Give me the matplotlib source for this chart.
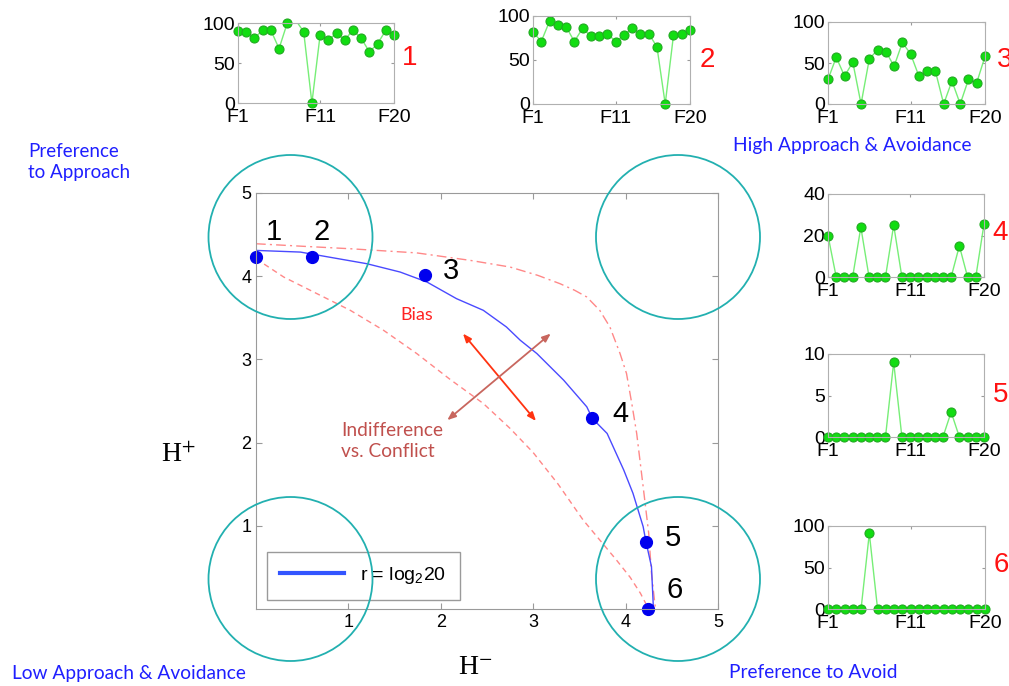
import matplotlib
matplotlib.use("Agg")
import matplotlib.pyplot as plt
from matplotlib.patches import Ellipse
import numpy as np

W, H = 1009, 686

# main panel: blue points and traced curves (H-, H+)
pt_labels = ["1", "2", "3", "4", "5", "6"]
pt_x = [0.00, 0.61, 1.83, 3.64, 4.22, 4.24]
pt_y = [4.23, 4.23, 4.01, 2.29, 0.81, 0.00]

curve_x = [0.00, 0.48, 0.84, 1.20, 1.56, 1.85, 2.17, 2.46, 2.71, 2.86, 3.04,
           3.33, 3.58, 3.64, 3.80, 3.98, 4.08, 4.19, 4.22, 4.28, 4.30]
curve_y = [4.31, 4.29, 4.22, 4.15, 4.05, 3.93, 3.73, 3.59, 3.39, 3.23, 3.07,
           2.75, 2.43, 2.29, 2.11, 1.67, 1.39, 0.99, 0.81, 0.51, 0.03]

upper_x = [0.00, 0.50, 1.02, 1.74, 2.32, 2.75, 3.05, 3.29, 3.45, 3.58, 3.72,
           3.83, 3.94, 4.01, 4.07, 4.12, 4.19, 4.25, 4.28, 4.32]
upper_y = [4.39, 4.36, 4.33, 4.28, 4.19, 4.11, 4.01, 3.91, 3.83, 3.75, 3.59,
           3.39, 3.07, 2.83, 2.45, 2.11, 1.47, 0.91, 0.43, 0.03]

lower_x = [0.00, 0.30, 0.66, 1.02, 1.38, 1.74, 2.10, 2.46, 2.75, 3.00, 3.27,
           3.54, 3.72, 3.90, 4.05, 4.16, 4.24]
lower_y = [4.21, 3.99, 3.79, 3.59, 3.35, 3.07, 2.76, 2.47, 2.17, 1.88, 1.50,
           1.07, 0.83, 0.59, 0.38, 0.19, 0.02]

main_ticks = [1, 2, 3, 4, 5]

# small panels: 20 features each
feat = np.arange(1, 21)
feat_ticks = [1, 11, 20]
feat_ticklabels = ["F1", "F11", "F20"]

prof1 = [90, 89, 81, 91, 91, 68, 100, 104, 89, 0, 85, 79, 87, 79, 91, 81, 64, 74, 91, 85]
prof2 = [82, 71, 94, 90, 88, 71, 86, 77, 77, 80, 71, 78, 86, 80, 80, 65, 0, 78, 80, 84]
prof3 = [30, 57, 34, 51, 0, 55, 66, 64, 46, 75, 61, 34, 40, 40, 0, 28, 0, 30, 26, 58]
prof4 = [20, 0, 0, 0, 24, 0, 0, 0, 25, 0, 0, 0, 0, 0, 0, 0, 15, 0, 0, 25.5]
prof5 = [0, 0, 0, 0, 0, 0, 0, 0, 9, 0, 0, 0, 0, 0, 0, 3, 0, 0, 0, 0]
prof6 = [0, 0, 0, 0, 0, 91, 0, 0, 0, 0, 0, 0, 0, 0, 0, 0, 0, 0, 0, 0]


def rect(x0, y0, x1, y1):
    # pixel box -> figure fraction
    return [x0 / W, 1 - y1 / H, (x1 - x0) / W, (y1 - y0) / H]


def fpos(x, y):
    return x / W, 1 - y / H


plt.rcParams["mathtext.fontset"] = "custom"
plt.rcParams["mathtext.rm"] = "Liberation Sans"
plt.rcParams["mathtext.it"] = "Liberation Sans:italic"

fig = plt.figure(figsize=(W / 100, H / 100), dpi=100)
tick_font = "Liberation Sans"
label_font = "Lato"
grey = "#9a9a9a"

# ---- main axes
ax = fig.add_axes(rect(256, 193, 718, 609))
ax.plot(lower_x, lower_y, ls=(0, (4, 3)), color="#ff8888", lw=1)
ax.plot(upper_x, upper_y, ls=(0, (7, 3, 1.5, 3)), color="#ff8888", lw=1)
ax.plot(curve_x, curve_y, color="#4a4aff", lw=1, label=r"r = log$_\mathrm{2}$20")
ax.plot(pt_x, pt_y, "o", color="#0000ee", ms=8.5, clip_on=False)
offs = [(18, 25), (9, 25), (26, 4), (28, 4), (27, 4), (27, 19)]
for lab, x, y, (dx, dy) in zip(pt_labels, pt_x, pt_y, offs):
    ax.annotate(lab, (x, y), xytext=(dx, dy), textcoords="offset pixels",
                ha="center", va="center", fontsize=21, family=tick_font)

ax.annotate("", xy=(2.24, 3.31), xytext=(3.03, 2.26),
            arrowprops=dict(arrowstyle="<|-|>,head_length=0.5,head_width=0.2",
                            color="#ff3311", lw=1.3, shrinkA=0, shrinkB=0))
ax.annotate("", xy=(3.19, 3.31), xytext=(2.07, 2.27),
            arrowprops=dict(arrowstyle="<|-|>,head_length=0.5,head_width=0.2",
                            color="#c8665e", lw=1.3, shrinkA=0, shrinkB=0))
ax.text(1.74, 3.53, "Bias", color="#ff2222", fontsize=13, family=label_font,
        ha="center", va="center")
ax.text(0.92, 2.02, "Indifference\nvs. Conflict", color="#c0504d", fontsize=13.8,
        family=label_font, ha="left", va="center", multialignment="left",
        linespacing=1.25)

ax.set_xlim(0, 5)
ax.set_ylim(0, 5)
ax.set_xticks(main_ticks)
ax.set_yticks(main_ticks)
ax.tick_params(direction="in", top=True, right=True, length=4, color=grey,
               labelsize=13)
for t in ax.get_xticklabels() + ax.get_yticklabels():
    t.set_family(tick_font)
for s in ax.spines.values():
    s.set_color(grey)
leg = ax.legend(loc="lower left", bbox_to_anchor=(0.023, 0.022), fancybox=False,
                edgecolor=grey, prop={"family": tick_font, "size": 14},
                handlelength=3.3, borderpad=0.7, borderaxespad=0, framealpha=1)
leg.get_lines()[0].set_linewidth(3)
leg.get_lines()[0].set_color("#3355ff")

fig.text(*fpos(178, 455), r"H$^{+}$", fontsize=20, ha="center", va="center",
         math_fontfamily="stix", family="Liberation Serif")
fig.text(*fpos(475, 668), r"H$^{-}$", fontsize=20, ha="center", va="center",
         math_fontfamily="stix", family="Liberation Serif")

# ---- quadrant circles
for cx, cy in [(290.5, 237), (678, 237), (290.5, 579), (678, 579)]:
    fig.add_artist(Ellipse(fpos(cx, cy), 164 / W, 164 / H, transform=fig.transFigure,
                           fill=False, edgecolor="#22b0b0", lw=1.3))

blue = "#1f1fff"
fig.text(*fpos(28, 162), "Preference\nto Approach", color=blue, fontsize=13.5,
         family=label_font, ha="left", va="center", multialignment="left",
         linespacing=1.25)
fig.text(*fpos(733, 146), "High Approach & Avoidance", color=blue, fontsize=13.8,
         family=label_font, ha="left", va="center")
fig.text(*fpos(12, 673), "Low Approach & Avoidance", color=blue, fontsize=13.8,
         family=label_font, ha="left", va="center")
fig.text(*fpos(729, 672), "Preference to Avoid", color=blue, fontsize=13.8,
         family=label_font, ha="left", va="center")

# ---- feature profiles
panels = [
    (prof1, (238, 23, 394, 103), 100, "1", (410, 58)),
    (prof2, (533, 16, 690, 104), 100, "2", (707, 60)),
    (prof3, (828, 22, 985, 104), 100, "3", (1005, 60)),
    (prof4, (828, 194, 984, 277), 40, "4", (1000, 233)),
    (prof5, (828, 354, 984, 437), 10, "5", (1001, 395)),
    (prof6, (828, 526, 985, 609), 100, "6", (1001, 565)),
]
for vals, box, top, name, lpos in panels:
    a = fig.add_axes(rect(*box))
    v = np.array(vals, dtype=float)
    a.plot(feat, v, color="#77ee77", lw=1)
    ok = v <= top
    a.plot(feat[ok], v[ok], "o", ms=6.5, mfc="#11dd11", mec="#22aa22", mew=0.8,
           clip_on=False)
    a.set_xlim(1, 20)
    a.set_ylim(0, top)
    a.set_xticks(feat_ticks)
    a.set_xticklabels(feat_ticklabels)
    a.set_yticks([0, top / 2, top])
    a.set_yticklabels([f"{t:g}" for t in (0, top / 2, top)])
    a.tick_params(direction="in", top=True, right=True, length=2, color=grey,
                  labelsize=14, pad=2)
    a.tick_params(axis="x", pad=4)
    for t in a.get_xticklabels() + a.get_yticklabels():
        t.set_family(tick_font)
    for s in a.spines.values():
        s.set_color("#b0b0b0")
    fig.text(*fpos(*lpos), name, color="#ff1111", fontsize=20, family=tick_font,
             ha="center", va="center")

fig.savefig("out.png", dpi=100)
